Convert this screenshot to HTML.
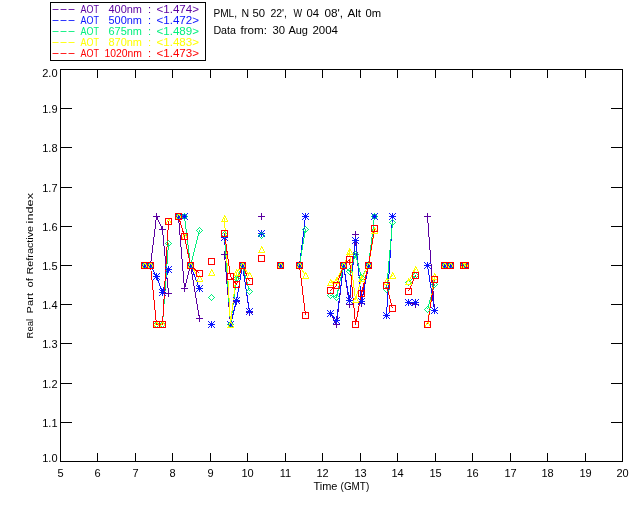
<!DOCTYPE html><html><head><meta charset="utf-8"><title>Real Part of Refractive Index</title><style>
html,body{margin:0;padding:0;background:#fff;}
body{width:640px;height:512px;overflow:hidden;}
svg{display:block;will-change:transform;}
text{font-family:"Liberation Sans",Arial,Helvetica,sans-serif;font-size:11px;}
</style></head><body>
<svg width="640" height="512" viewBox="0 0 640 512">
<rect x="0" y="0" width="640" height="512" fill="#fff"/>
<g shape-rendering="crispEdges"><rect x="60" y="69" width="563" height="1" fill="#000"/><rect x="60" y="461" width="563" height="1" fill="#000"/><rect x="60" y="69" width="1" height="393" fill="#000"/><rect x="622" y="69" width="1" height="393" fill="#000"/><rect x="97" y="453" width="1" height="8" fill="#000"/><rect x="97" y="70" width="1" height="8" fill="#000"/><rect x="135" y="453" width="1" height="8" fill="#000"/><rect x="135" y="70" width="1" height="8" fill="#000"/><rect x="172" y="453" width="1" height="8" fill="#000"/><rect x="172" y="70" width="1" height="8" fill="#000"/><rect x="210" y="453" width="1" height="8" fill="#000"/><rect x="210" y="70" width="1" height="8" fill="#000"/><rect x="247" y="453" width="1" height="8" fill="#000"/><rect x="247" y="70" width="1" height="8" fill="#000"/><rect x="285" y="453" width="1" height="8" fill="#000"/><rect x="285" y="70" width="1" height="8" fill="#000"/><rect x="322" y="453" width="1" height="8" fill="#000"/><rect x="322" y="70" width="1" height="8" fill="#000"/><rect x="360" y="453" width="1" height="8" fill="#000"/><rect x="360" y="70" width="1" height="8" fill="#000"/><rect x="397" y="453" width="1" height="8" fill="#000"/><rect x="397" y="70" width="1" height="8" fill="#000"/><rect x="435" y="453" width="1" height="8" fill="#000"/><rect x="435" y="70" width="1" height="8" fill="#000"/><rect x="472" y="453" width="1" height="8" fill="#000"/><rect x="472" y="70" width="1" height="8" fill="#000"/><rect x="510" y="453" width="1" height="8" fill="#000"/><rect x="510" y="70" width="1" height="8" fill="#000"/><rect x="547" y="453" width="1" height="8" fill="#000"/><rect x="547" y="70" width="1" height="8" fill="#000"/><rect x="585" y="453" width="1" height="8" fill="#000"/><rect x="585" y="70" width="1" height="8" fill="#000"/><rect x="61" y="422" width="11" height="1" fill="#000"/><rect x="611" y="422" width="11" height="1" fill="#000"/><rect x="61" y="383" width="11" height="1" fill="#000"/><rect x="611" y="383" width="11" height="1" fill="#000"/><rect x="61" y="343" width="11" height="1" fill="#000"/><rect x="611" y="343" width="11" height="1" fill="#000"/><rect x="61" y="304" width="11" height="1" fill="#000"/><rect x="611" y="304" width="11" height="1" fill="#000"/><rect x="61" y="265" width="11" height="1" fill="#000"/><rect x="611" y="265" width="11" height="1" fill="#000"/><rect x="61" y="226" width="11" height="1" fill="#000"/><rect x="611" y="226" width="11" height="1" fill="#000"/><rect x="61" y="187" width="11" height="1" fill="#000"/><rect x="611" y="187" width="11" height="1" fill="#000"/><rect x="61" y="147" width="11" height="1" fill="#000"/><rect x="611" y="147" width="11" height="1" fill="#000"/><rect x="61" y="108" width="11" height="1" fill="#000"/><rect x="611" y="108" width="11" height="1" fill="#000"/></g>
<g fill="#000"><text x="60.5" y="477" text-anchor="middle">5</text><text x="97.5" y="477" text-anchor="middle">6</text><text x="135.5" y="477" text-anchor="middle">7</text><text x="172.5" y="477" text-anchor="middle">8</text><text x="210.5" y="477" text-anchor="middle">9</text><text x="247.5" y="477" text-anchor="middle">10</text><text x="285.5" y="477" text-anchor="middle">11</text><text x="322.5" y="477" text-anchor="middle">12</text><text x="360.5" y="477" text-anchor="middle">13</text><text x="397.5" y="477" text-anchor="middle">14</text><text x="435.5" y="477" text-anchor="middle">15</text><text x="472.5" y="477" text-anchor="middle">16</text><text x="510.5" y="477" text-anchor="middle">17</text><text x="547.5" y="477" text-anchor="middle">18</text><text x="585.5" y="477" text-anchor="middle">19</text><text x="622.5" y="477" text-anchor="middle">20</text><text x="57.5" y="462" text-anchor="end">1.0</text><text x="57.5" y="427" text-anchor="end">1.1</text><text x="57.5" y="388" text-anchor="end">1.2</text><text x="57.5" y="348" text-anchor="end">1.3</text><text x="57.5" y="309" text-anchor="end">1.4</text><text x="57.5" y="270" text-anchor="end">1.5</text><text x="57.5" y="231" text-anchor="end">1.6</text><text x="57.5" y="192" text-anchor="end">1.7</text><text x="57.5" y="152" text-anchor="end">1.8</text><text x="57.5" y="113" text-anchor="end">1.9</text><text x="57.5" y="77" text-anchor="end">2.0</text><text x="313.4" y="490" textLength="24" lengthAdjust="spacingAndGlyphs">Time</text><text x="340.6" y="490" textLength="28.6" lengthAdjust="spacingAndGlyphs">(GMT)</text><g><text transform="translate(33,338.40) rotate(-90)" textLength="19.40" lengthAdjust="spacingAndGlyphs" style="font-size:9.5px">Real</text><text transform="translate(33,313.40) rotate(-90)" textLength="20.40" lengthAdjust="spacingAndGlyphs" style="font-size:9.5px">Part</text><text transform="translate(33,287.40) rotate(-90)" textLength="9.40" lengthAdjust="spacingAndGlyphs" style="font-size:9.5px">of</text><text transform="translate(33,274.40) rotate(-90)" textLength="48.40" lengthAdjust="spacingAndGlyphs" style="font-size:9.5px">Refractive</text><text transform="translate(33,223.40) rotate(-90)" textLength="30.40" lengthAdjust="spacingAndGlyphs" style="font-size:9.5px">index</text></g></g>
<g fill="#000"><text x="213.40" y="17.00" textLength="23.60" lengthAdjust="spacingAndGlyphs">PML,</text><text x="241.40" y="17.00" textLength="7.60" lengthAdjust="spacingAndGlyphs">N</text><text x="252.40" y="17.00" textLength="12.60" lengthAdjust="spacingAndGlyphs">50</text><text x="270.40" y="17.00" textLength="16.60" lengthAdjust="spacingAndGlyphs">22',</text><text x="293.40" y="17.00" textLength="8.60" lengthAdjust="spacingAndGlyphs">W</text><text x="306.40" y="17.00" textLength="12.60" lengthAdjust="spacingAndGlyphs">04</text><text x="324.40" y="17.00" textLength="18.60" lengthAdjust="spacingAndGlyphs">08',</text><text x="347.40" y="17.00" textLength="13.60" lengthAdjust="spacingAndGlyphs">Alt</text><text x="365.40" y="17.00" textLength="15.60" lengthAdjust="spacingAndGlyphs">0m</text><text x="213.40" y="34.00" textLength="22.60" lengthAdjust="spacingAndGlyphs">Data</text><text x="240.40" y="34.00" textLength="26.60" lengthAdjust="spacingAndGlyphs">from:</text><text x="272.40" y="34.00" textLength="12.60" lengthAdjust="spacingAndGlyphs">30</text><text x="288.40" y="34.00" textLength="19.60" lengthAdjust="spacingAndGlyphs">Aug</text><text x="312.40" y="34.00" textLength="25.60" lengthAdjust="spacingAndGlyphs">2004</text></g>
<rect x="50.5" y="2.5" width="155" height="58" fill="none" stroke="#000" stroke-width="1" shape-rendering="crispEdges"/><text transform="translate(51.5,12) scale(2.2,1)" fill="#5a00a0">---</text><text x="80.5" y="13" fill="#5a00a0" textLength="18.5" lengthAdjust="spacingAndGlyphs">AOT</text><text x="108.5" y="13" fill="#5a00a0" textLength="33.5" lengthAdjust="spacingAndGlyphs">400nm</text><text x="148" y="13" fill="#5a00a0">:</text><text x="156.5" y="13" fill="#5a00a0" textLength="42.5" lengthAdjust="spacingAndGlyphs">&lt;1.474&gt;</text><text transform="translate(51.5,23) scale(2.2,1)" fill="#0a14ff">---</text><text x="80.5" y="24" fill="#0a14ff" textLength="18.5" lengthAdjust="spacingAndGlyphs">AOT</text><text x="108.5" y="24" fill="#0a14ff" textLength="33.5" lengthAdjust="spacingAndGlyphs">500nm</text><text x="148" y="24" fill="#0a14ff">:</text><text x="156.5" y="24" fill="#0a14ff" textLength="42.5" lengthAdjust="spacingAndGlyphs">&lt;1.472&gt;</text><text transform="translate(51.5,34) scale(2.2,1)" fill="#00f07c">---</text><text x="80.5" y="35" fill="#00f07c" textLength="18.5" lengthAdjust="spacingAndGlyphs">AOT</text><text x="108.5" y="35" fill="#00f07c" textLength="33.5" lengthAdjust="spacingAndGlyphs">675nm</text><text x="148" y="35" fill="#00f07c">:</text><text x="156.5" y="35" fill="#00f07c" textLength="42.5" lengthAdjust="spacingAndGlyphs">&lt;1.489&gt;</text><text transform="translate(51.5,45) scale(2.2,1)" fill="#ffff00">---</text><text x="80.5" y="46" fill="#ffff00" textLength="18.5" lengthAdjust="spacingAndGlyphs">AOT</text><text x="108.5" y="46" fill="#ffff00" textLength="33.5" lengthAdjust="spacingAndGlyphs">870nm</text><text x="148" y="46" fill="#ffff00">:</text><text x="156.5" y="46" fill="#ffff00" textLength="42.5" lengthAdjust="spacingAndGlyphs">&lt;1.483&gt;</text><text transform="translate(51.5,56) scale(2.2,1)" fill="#ff0000">---</text><text x="80.5" y="57" fill="#ff0000" textLength="18.5" lengthAdjust="spacingAndGlyphs">AOT</text><text x="104.5" y="57" fill="#ff0000" textLength="37.5" lengthAdjust="spacingAndGlyphs">1020nm</text><text x="148" y="57" fill="#ff0000">:</text><text x="156.5" y="57" fill="#ff0000" textLength="42.5" lengthAdjust="spacingAndGlyphs">&lt;1.473&gt;</text>
<g fill="none" stroke="#5a00a0" stroke-width="1" shape-rendering="crispEdges"><polyline points="150.5,265.5 156.5,216.5 162.5,229.5 168.5,293.5"/><polyline points="178.5,216.5 184.5,288.5 190.5,265.5 199.5,318.5"/><polyline points="224.5,254.5 230.5,324.5 236.5,301.5 242.5,265.5 249.5,312.5"/><polyline points="299.5,265.5 305.5,216.5"/><polyline points="330.5,313.5 336.5,324.5 343.5,265.5 349.5,304.5 355.5,234.5 361.5,303.5 368.5,265.5 374.5,216.5"/><polyline points="386.5,315.5 392.5,216.5"/><polyline points="408.5,302.5 415.5,304.5"/><polyline points="427.5,216.5 434.5,310.5"/></g>
<g fill="none" stroke="#0a14ff" stroke-width="1" shape-rendering="crispEdges"><polyline points="150.5,265.5 156.5,276.5 162.5,292.5 168.5,269.5"/><polyline points="178.5,216.5 184.5,216.5 190.5,265.5 199.5,288.5"/><polyline points="224.5,237.5 230.5,324.5 236.5,300.5 242.5,265.5 249.5,311.5"/><polyline points="299.5,265.5 305.5,216.5"/><polyline points="330.5,313.5 336.5,320.5 343.5,265.5 349.5,300.5 355.5,240.5 361.5,301.5 368.5,265.5 374.5,216.5"/><polyline points="386.5,315.5 392.5,216.5"/><polyline points="408.5,302.5 415.5,302.5"/><polyline points="427.5,265.5 434.5,310.5"/></g>
<g fill="none" stroke="#00f07c" stroke-width="1" shape-rendering="crispEdges"><polyline points="150.5,265.5 156.5,324.5 162.5,324.5 168.5,243.5"/><polyline points="178.5,216.5 184.5,216.5 190.5,265.5 199.5,230.5"/><polyline points="224.5,234.5 230.5,324.5 236.5,278.5 242.5,265.5 249.5,291.5"/><polyline points="299.5,265.5 305.5,229.5"/><polyline points="330.5,295.5 336.5,297.5 343.5,265.5 349.5,271.5 355.5,254.5 361.5,277.5 368.5,265.5 374.5,216.5"/><polyline points="386.5,289.5 392.5,222.5"/><polyline points="408.5,282.5 415.5,275.5"/><polyline points="427.5,309.5 434.5,284.5"/></g>
<g fill="none" stroke="#ffff00" stroke-width="1" shape-rendering="crispEdges"><polyline points="150.5,265.5 156.5,324.5 162.5,324.5 168.5,221.5"/><polyline points="178.5,216.5 184.5,236.5 190.5,265.5 199.5,278.5"/><polyline points="224.5,218.5 230.5,324.5 236.5,272.5 242.5,265.5 249.5,275.5"/><polyline points="299.5,265.5 305.5,275.5"/><polyline points="330.5,282.5 336.5,280.5 343.5,265.5 349.5,251.5 355.5,299.5 361.5,278.5 368.5,265.5 374.5,230.5"/><polyline points="386.5,281.5 392.5,275.5"/><polyline points="408.5,281.5 415.5,269.5"/><polyline points="427.5,324.5 434.5,276.5"/></g>
<g fill="none" stroke="#ff0000" stroke-width="1" shape-rendering="crispEdges"><polyline points="150.5,265.5 156.5,324.5 162.5,324.5 168.5,221.5"/><polyline points="178.5,216.5 184.5,236.5 190.5,265.5 199.5,273.5"/><polyline points="224.5,233.5 230.5,276.5 236.5,284.5 242.5,265.5 249.5,281.5"/><polyline points="299.5,265.5 305.5,315.5"/><polyline points="330.5,290.5 336.5,285.5 343.5,265.5 349.5,259.5 355.5,324.5 361.5,293.5 368.5,265.5 374.5,228.5"/><polyline points="386.5,285.5 392.5,308.5"/><polyline points="408.5,291.5 415.5,275.5"/><polyline points="427.5,324.5 434.5,279.5"/></g>
<path fill="#5a00a0" shape-rendering="crispEdges" d="M156 213h1v1h-1zM178 213h1v1h-1zM261 213h1v1h-1zM305 213h1v1h-1zM374 213h1v1h-1zM392 213h1v1h-1zM427 213h1v1h-1zM156 214h1v1h-1zM178 214h1v1h-1zM261 214h1v1h-1zM305 214h1v1h-1zM374 214h1v1h-1zM392 214h1v1h-1zM427 214h1v1h-1zM156 215h1v1h-1zM178 215h1v1h-1zM261 215h1v1h-1zM305 215h1v1h-1zM374 215h1v1h-1zM392 215h1v1h-1zM427 215h1v1h-1zM153 216h7v1h-7zM175 216h7v1h-7zM258 216h7v1h-7zM302 216h7v1h-7zM371 216h7v1h-7zM389 216h7v1h-7zM424 216h7v1h-7zM156 217h1v1h-1zM178 217h1v1h-1zM261 217h1v1h-1zM305 217h1v1h-1zM374 217h1v1h-1zM392 217h1v1h-1zM427 217h1v1h-1zM156 218h1v1h-1zM178 218h1v1h-1zM261 218h1v1h-1zM305 218h1v1h-1zM374 218h1v1h-1zM392 218h1v1h-1zM427 218h1v1h-1zM156 219h1v1h-1zM178 219h1v1h-1zM261 219h1v1h-1zM305 219h1v1h-1zM374 219h1v1h-1zM392 219h1v1h-1zM427 219h1v1h-1zM162 226h1v1h-1zM162 227h1v1h-1zM162 228h1v1h-1zM159 229h7v1h-7zM162 230h1v1h-1zM162 231h1v1h-1zM355 231h1v1h-1zM162 232h1v1h-1zM355 232h1v1h-1zM355 233h1v1h-1zM352 234h7v1h-7zM355 235h1v1h-1zM355 236h1v1h-1zM355 237h1v1h-1zM224 251h1v1h-1zM224 252h1v1h-1zM224 253h1v1h-1zM221 254h7v1h-7zM224 255h1v1h-1zM224 256h1v1h-1zM224 257h1v1h-1zM144 262h1v1h-1zM150 262h1v1h-1zM190 262h1v1h-1zM242 262h1v1h-1zM280 262h1v1h-1zM299 262h1v1h-1zM343 262h1v1h-1zM368 262h1v1h-1zM444 262h1v1h-1zM450 262h1v1h-1zM463 262h1v1h-1zM465 262h1v1h-1zM144 263h1v1h-1zM150 263h1v1h-1zM190 263h1v1h-1zM242 263h1v1h-1zM280 263h1v1h-1zM299 263h1v1h-1zM343 263h1v1h-1zM368 263h1v1h-1zM444 263h1v1h-1zM450 263h1v1h-1zM463 263h1v1h-1zM465 263h1v1h-1zM144 264h1v1h-1zM150 264h1v1h-1zM190 264h1v1h-1zM242 264h1v1h-1zM280 264h1v1h-1zM299 264h1v1h-1zM343 264h1v1h-1zM368 264h1v1h-1zM444 264h1v1h-1zM450 264h1v1h-1zM463 264h1v1h-1zM465 264h1v1h-1zM141 265h13v1h-13zM187 265h7v1h-7zM239 265h7v1h-7zM277 265h7v1h-7zM296 265h7v1h-7zM340 265h7v1h-7zM365 265h7v1h-7zM441 265h13v1h-13zM460 265h9v1h-9zM144 266h1v1h-1zM150 266h1v1h-1zM190 266h1v1h-1zM242 266h1v1h-1zM280 266h1v1h-1zM299 266h1v1h-1zM343 266h1v1h-1zM368 266h1v1h-1zM444 266h1v1h-1zM450 266h1v1h-1zM463 266h1v1h-1zM465 266h1v1h-1zM144 267h1v1h-1zM150 267h1v1h-1zM190 267h1v1h-1zM242 267h1v1h-1zM280 267h1v1h-1zM299 267h1v1h-1zM343 267h1v1h-1zM368 267h1v1h-1zM444 267h1v1h-1zM450 267h1v1h-1zM463 267h1v1h-1zM465 267h1v1h-1zM144 268h1v1h-1zM150 268h1v1h-1zM190 268h1v1h-1zM242 268h1v1h-1zM280 268h1v1h-1zM299 268h1v1h-1zM343 268h1v1h-1zM368 268h1v1h-1zM444 268h1v1h-1zM450 268h1v1h-1zM463 268h1v1h-1zM465 268h1v1h-1zM184 285h1v1h-1zM184 286h1v1h-1zM184 287h1v1h-1zM181 288h7v1h-7zM184 289h1v1h-1zM168 290h1v1h-1zM184 290h1v1h-1zM168 291h1v1h-1zM184 291h1v1h-1zM168 292h1v1h-1zM165 293h7v1h-7zM168 294h1v1h-1zM168 295h1v1h-1zM168 296h1v1h-1zM236 298h1v1h-1zM236 299h1v1h-1zM408 299h1v1h-1zM236 300h1v1h-1zM361 300h1v1h-1zM408 300h1v1h-1zM233 301h7v1h-7zM349 301h1v1h-1zM361 301h1v1h-1zM408 301h1v1h-1zM415 301h1v1h-1zM236 302h1v1h-1zM349 302h1v1h-1zM361 302h1v1h-1zM405 302h7v1h-7zM415 302h1v1h-1zM236 303h1v1h-1zM349 303h1v1h-1zM358 303h7v1h-7zM408 303h1v1h-1zM415 303h1v1h-1zM236 304h1v1h-1zM346 304h7v1h-7zM361 304h1v1h-1zM408 304h1v1h-1zM412 304h7v1h-7zM349 305h1v1h-1zM361 305h1v1h-1zM408 305h1v1h-1zM415 305h1v1h-1zM349 306h1v1h-1zM361 306h1v1h-1zM415 306h1v1h-1zM349 307h1v1h-1zM415 307h1v1h-1zM434 307h1v1h-1zM434 308h1v1h-1zM249 309h1v1h-1zM434 309h1v1h-1zM249 310h1v1h-1zM330 310h1v1h-1zM431 310h7v1h-7zM249 311h1v1h-1zM330 311h1v1h-1zM434 311h1v1h-1zM246 312h7v1h-7zM330 312h1v1h-1zM386 312h1v1h-1zM434 312h1v1h-1zM249 313h1v1h-1zM327 313h7v1h-7zM386 313h1v1h-1zM434 313h1v1h-1zM249 314h1v1h-1zM330 314h1v1h-1zM386 314h1v1h-1zM199 315h1v1h-1zM249 315h1v1h-1zM330 315h1v1h-1zM383 315h7v1h-7zM199 316h1v1h-1zM330 316h1v1h-1zM386 316h1v1h-1zM199 317h1v1h-1zM386 317h1v1h-1zM196 318h7v1h-7zM386 318h1v1h-1zM199 319h1v1h-1zM199 320h1v1h-1zM199 321h1v1h-1zM211 321h1v1h-1zM230 321h1v1h-1zM336 321h1v1h-1zM211 322h1v1h-1zM230 322h1v1h-1zM336 322h1v1h-1zM211 323h1v1h-1zM230 323h1v1h-1zM336 323h1v1h-1zM208 324h7v1h-7zM227 324h7v1h-7zM333 324h7v1h-7zM211 325h1v1h-1zM230 325h1v1h-1zM336 325h1v1h-1zM211 326h1v1h-1zM230 326h1v1h-1zM336 326h1v1h-1zM211 327h1v1h-1zM230 327h1v1h-1zM336 327h1v1h-1z"/>
<path fill="#0a14ff" shape-rendering="crispEdges" d="M175 213h1v1h-1zM178 213h1v1h-1zM181 213h1v1h-1zM184 213h1v1h-1zM187 213h1v1h-1zM302 213h1v1h-1zM305 213h1v1h-1zM308 213h1v1h-1zM371 213h1v1h-1zM374 213h1v1h-1zM377 213h1v1h-1zM389 213h1v1h-1zM392 213h1v1h-1zM395 213h1v1h-1zM176 214h1v1h-1zM178 214h1v1h-1zM180 214h1v1h-1zM182 214h1v1h-1zM184 214h1v1h-1zM186 214h1v1h-1zM303 214h1v1h-1zM305 214h1v1h-1zM307 214h1v1h-1zM372 214h1v1h-1zM374 214h1v1h-1zM376 214h1v1h-1zM390 214h1v1h-1zM392 214h1v1h-1zM394 214h1v1h-1zM177 215h3v1h-3zM183 215h3v1h-3zM304 215h3v1h-3zM373 215h3v1h-3zM391 215h3v1h-3zM175 216h13v1h-13zM302 216h7v1h-7zM371 216h7v1h-7zM389 216h7v1h-7zM177 217h3v1h-3zM183 217h3v1h-3zM304 217h3v1h-3zM373 217h3v1h-3zM391 217h3v1h-3zM176 218h1v1h-1zM178 218h1v1h-1zM180 218h1v1h-1zM182 218h1v1h-1zM184 218h1v1h-1zM186 218h1v1h-1zM303 218h1v1h-1zM305 218h1v1h-1zM307 218h1v1h-1zM372 218h1v1h-1zM374 218h1v1h-1zM376 218h1v1h-1zM390 218h1v1h-1zM392 218h1v1h-1zM394 218h1v1h-1zM175 219h1v1h-1zM178 219h1v1h-1zM181 219h1v1h-1zM184 219h1v1h-1zM187 219h1v1h-1zM302 219h1v1h-1zM305 219h1v1h-1zM308 219h1v1h-1zM371 219h1v1h-1zM374 219h1v1h-1zM377 219h1v1h-1zM389 219h1v1h-1zM392 219h1v1h-1zM395 219h1v1h-1zM258 230h1v1h-1zM261 230h1v1h-1zM264 230h1v1h-1zM259 231h1v1h-1zM261 231h1v1h-1zM263 231h1v1h-1zM260 232h3v1h-3zM258 233h7v1h-7zM221 234h1v1h-1zM224 234h1v1h-1zM227 234h1v1h-1zM260 234h3v1h-3zM222 235h1v1h-1zM224 235h1v1h-1zM226 235h1v1h-1zM259 235h1v1h-1zM261 235h1v1h-1zM263 235h1v1h-1zM223 236h3v1h-3zM258 236h1v1h-1zM261 236h1v1h-1zM264 236h1v1h-1zM221 237h7v1h-7zM352 237h1v1h-1zM355 237h1v1h-1zM358 237h1v1h-1zM223 238h3v1h-3zM353 238h1v1h-1zM355 238h1v1h-1zM357 238h1v1h-1zM222 239h1v1h-1zM224 239h1v1h-1zM226 239h1v1h-1zM354 239h3v1h-3zM221 240h1v1h-1zM224 240h1v1h-1zM227 240h1v1h-1zM352 240h7v1h-7zM354 241h3v1h-3zM353 242h1v1h-1zM355 242h1v1h-1zM357 242h1v1h-1zM352 243h1v1h-1zM355 243h1v1h-1zM358 243h1v1h-1zM141 262h1v1h-1zM144 262h1v1h-1zM147 262h1v1h-1zM150 262h1v1h-1zM153 262h1v1h-1zM187 262h1v1h-1zM190 262h1v1h-1zM193 262h1v1h-1zM239 262h1v1h-1zM242 262h1v1h-1zM245 262h1v1h-1zM277 262h1v1h-1zM280 262h1v1h-1zM283 262h1v1h-1zM296 262h1v1h-1zM299 262h1v1h-1zM302 262h1v1h-1zM340 262h1v1h-1zM343 262h1v1h-1zM346 262h1v1h-1zM365 262h1v1h-1zM368 262h1v1h-1zM371 262h1v1h-1zM424 262h1v1h-1zM427 262h1v1h-1zM430 262h1v1h-1zM441 262h1v1h-1zM444 262h1v1h-1zM447 262h1v1h-1zM450 262h1v1h-1zM453 262h1v1h-1zM460 262h1v1h-1zM462 262h2v1h-2zM465 262h2v1h-2zM468 262h1v1h-1zM142 263h1v1h-1zM144 263h1v1h-1zM146 263h1v1h-1zM148 263h1v1h-1zM150 263h1v1h-1zM152 263h1v1h-1zM188 263h1v1h-1zM190 263h1v1h-1zM192 263h1v1h-1zM240 263h1v1h-1zM242 263h1v1h-1zM244 263h1v1h-1zM278 263h1v1h-1zM280 263h1v1h-1zM282 263h1v1h-1zM297 263h1v1h-1zM299 263h1v1h-1zM301 263h1v1h-1zM341 263h1v1h-1zM343 263h1v1h-1zM345 263h1v1h-1zM366 263h1v1h-1zM368 263h1v1h-1zM370 263h1v1h-1zM425 263h1v1h-1zM427 263h1v1h-1zM429 263h1v1h-1zM442 263h1v1h-1zM444 263h1v1h-1zM446 263h1v1h-1zM448 263h1v1h-1zM450 263h1v1h-1zM452 263h1v1h-1zM461 263h1v1h-1zM463 263h1v1h-1zM465 263h1v1h-1zM467 263h1v1h-1zM143 264h3v1h-3zM149 264h3v1h-3zM189 264h3v1h-3zM241 264h3v1h-3zM279 264h3v1h-3zM298 264h3v1h-3zM342 264h3v1h-3zM367 264h3v1h-3zM426 264h3v1h-3zM443 264h3v1h-3zM449 264h3v1h-3zM462 264h5v1h-5zM141 265h13v1h-13zM187 265h7v1h-7zM239 265h7v1h-7zM277 265h7v1h-7zM296 265h7v1h-7zM340 265h7v1h-7zM365 265h7v1h-7zM424 265h7v1h-7zM441 265h13v1h-13zM460 265h9v1h-9zM143 266h3v1h-3zM149 266h3v1h-3zM165 266h1v1h-1zM168 266h1v1h-1zM171 266h1v1h-1zM189 266h3v1h-3zM241 266h3v1h-3zM279 266h3v1h-3zM298 266h3v1h-3zM342 266h3v1h-3zM367 266h3v1h-3zM426 266h3v1h-3zM443 266h3v1h-3zM449 266h3v1h-3zM462 266h5v1h-5zM142 267h1v1h-1zM144 267h1v1h-1zM146 267h1v1h-1zM148 267h1v1h-1zM150 267h1v1h-1zM152 267h1v1h-1zM166 267h1v1h-1zM168 267h1v1h-1zM170 267h1v1h-1zM188 267h1v1h-1zM190 267h1v1h-1zM192 267h1v1h-1zM240 267h1v1h-1zM242 267h1v1h-1zM244 267h1v1h-1zM278 267h1v1h-1zM280 267h1v1h-1zM282 267h1v1h-1zM297 267h1v1h-1zM299 267h1v1h-1zM301 267h1v1h-1zM341 267h1v1h-1zM343 267h1v1h-1zM345 267h1v1h-1zM366 267h1v1h-1zM368 267h1v1h-1zM370 267h1v1h-1zM425 267h1v1h-1zM427 267h1v1h-1zM429 267h1v1h-1zM442 267h1v1h-1zM444 267h1v1h-1zM446 267h1v1h-1zM448 267h1v1h-1zM450 267h1v1h-1zM452 267h1v1h-1zM461 267h1v1h-1zM463 267h1v1h-1zM465 267h1v1h-1zM467 267h1v1h-1zM141 268h1v1h-1zM144 268h1v1h-1zM147 268h1v1h-1zM150 268h1v1h-1zM153 268h1v1h-1zM167 268h3v1h-3zM187 268h1v1h-1zM190 268h1v1h-1zM193 268h1v1h-1zM239 268h1v1h-1zM242 268h1v1h-1zM245 268h1v1h-1zM277 268h1v1h-1zM280 268h1v1h-1zM283 268h1v1h-1zM296 268h1v1h-1zM299 268h1v1h-1zM302 268h1v1h-1zM340 268h1v1h-1zM343 268h1v1h-1zM346 268h1v1h-1zM365 268h1v1h-1zM368 268h1v1h-1zM371 268h1v1h-1zM424 268h1v1h-1zM427 268h1v1h-1zM430 268h1v1h-1zM441 268h1v1h-1zM444 268h1v1h-1zM447 268h1v1h-1zM450 268h1v1h-1zM453 268h1v1h-1zM460 268h1v1h-1zM462 268h2v1h-2zM465 268h2v1h-2zM468 268h1v1h-1zM165 269h7v1h-7zM167 270h3v1h-3zM166 271h1v1h-1zM168 271h1v1h-1zM170 271h1v1h-1zM165 272h1v1h-1zM168 272h1v1h-1zM171 272h1v1h-1zM153 273h1v1h-1zM156 273h1v1h-1zM159 273h1v1h-1zM154 274h1v1h-1zM156 274h1v1h-1zM158 274h1v1h-1zM155 275h3v1h-3zM153 276h7v1h-7zM155 277h3v1h-3zM154 278h1v1h-1zM156 278h1v1h-1zM158 278h1v1h-1zM153 279h1v1h-1zM156 279h1v1h-1zM159 279h1v1h-1zM196 285h1v1h-1zM199 285h1v1h-1zM202 285h1v1h-1zM197 286h1v1h-1zM199 286h1v1h-1zM201 286h1v1h-1zM198 287h3v1h-3zM196 288h7v1h-7zM159 289h1v1h-1zM162 289h1v1h-1zM165 289h1v1h-1zM198 289h3v1h-3zM160 290h1v1h-1zM162 290h1v1h-1zM164 290h1v1h-1zM197 290h1v1h-1zM199 290h1v1h-1zM201 290h1v1h-1zM161 291h3v1h-3zM196 291h1v1h-1zM199 291h1v1h-1zM202 291h1v1h-1zM159 292h7v1h-7zM161 293h3v1h-3zM160 294h1v1h-1zM162 294h1v1h-1zM164 294h1v1h-1zM159 295h1v1h-1zM162 295h1v1h-1zM165 295h1v1h-1zM233 297h1v1h-1zM236 297h1v1h-1zM239 297h1v1h-1zM346 297h1v1h-1zM349 297h1v1h-1zM352 297h1v1h-1zM234 298h1v1h-1zM236 298h1v1h-1zM238 298h1v1h-1zM347 298h1v1h-1zM349 298h1v1h-1zM351 298h1v1h-1zM358 298h1v1h-1zM361 298h1v1h-1zM364 298h1v1h-1zM235 299h3v1h-3zM348 299h3v1h-3zM359 299h1v1h-1zM361 299h1v1h-1zM363 299h1v1h-1zM405 299h1v1h-1zM408 299h1v1h-1zM411 299h2v1h-2zM415 299h1v1h-1zM418 299h1v1h-1zM233 300h7v1h-7zM346 300h7v1h-7zM360 300h3v1h-3zM406 300h1v1h-1zM408 300h1v1h-1zM410 300h1v1h-1zM413 300h1v1h-1zM415 300h1v1h-1zM417 300h1v1h-1zM235 301h3v1h-3zM348 301h3v1h-3zM358 301h7v1h-7zM407 301h3v1h-3zM414 301h3v1h-3zM234 302h1v1h-1zM236 302h1v1h-1zM238 302h1v1h-1zM347 302h1v1h-1zM349 302h1v1h-1zM351 302h1v1h-1zM360 302h3v1h-3zM405 302h14v1h-14zM233 303h1v1h-1zM236 303h1v1h-1zM239 303h1v1h-1zM346 303h1v1h-1zM349 303h1v1h-1zM352 303h1v1h-1zM359 303h1v1h-1zM361 303h1v1h-1zM363 303h1v1h-1zM407 303h3v1h-3zM414 303h3v1h-3zM358 304h1v1h-1zM361 304h1v1h-1zM364 304h1v1h-1zM406 304h1v1h-1zM408 304h1v1h-1zM410 304h1v1h-1zM413 304h1v1h-1zM415 304h1v1h-1zM417 304h1v1h-1zM405 305h1v1h-1zM408 305h1v1h-1zM411 305h2v1h-2zM415 305h1v1h-1zM418 305h1v1h-1zM431 307h1v1h-1zM434 307h1v1h-1zM437 307h1v1h-1zM246 308h1v1h-1zM249 308h1v1h-1zM252 308h1v1h-1zM432 308h1v1h-1zM434 308h1v1h-1zM436 308h1v1h-1zM247 309h1v1h-1zM249 309h1v1h-1zM251 309h1v1h-1zM433 309h3v1h-3zM248 310h3v1h-3zM327 310h1v1h-1zM330 310h1v1h-1zM333 310h1v1h-1zM431 310h7v1h-7zM246 311h7v1h-7zM328 311h1v1h-1zM330 311h1v1h-1zM332 311h1v1h-1zM433 311h3v1h-3zM248 312h3v1h-3zM329 312h3v1h-3zM383 312h1v1h-1zM386 312h1v1h-1zM389 312h1v1h-1zM432 312h1v1h-1zM434 312h1v1h-1zM436 312h1v1h-1zM247 313h1v1h-1zM249 313h1v1h-1zM251 313h1v1h-1zM327 313h7v1h-7zM384 313h1v1h-1zM386 313h1v1h-1zM388 313h1v1h-1zM431 313h1v1h-1zM434 313h1v1h-1zM437 313h1v1h-1zM246 314h1v1h-1zM249 314h1v1h-1zM252 314h1v1h-1zM329 314h3v1h-3zM385 314h3v1h-3zM328 315h1v1h-1zM330 315h1v1h-1zM332 315h1v1h-1zM383 315h7v1h-7zM327 316h1v1h-1zM330 316h1v1h-1zM333 316h1v1h-1zM385 316h3v1h-3zM333 317h1v1h-1zM336 317h1v1h-1zM339 317h1v1h-1zM384 317h1v1h-1zM386 317h1v1h-1zM388 317h1v1h-1zM334 318h1v1h-1zM336 318h1v1h-1zM338 318h1v1h-1zM383 318h1v1h-1zM386 318h1v1h-1zM389 318h1v1h-1zM335 319h3v1h-3zM333 320h7v1h-7zM208 321h1v1h-1zM211 321h1v1h-1zM214 321h1v1h-1zM227 321h1v1h-1zM230 321h1v1h-1zM233 321h1v1h-1zM335 321h3v1h-3zM209 322h1v1h-1zM211 322h1v1h-1zM213 322h1v1h-1zM228 322h1v1h-1zM230 322h1v1h-1zM232 322h1v1h-1zM334 322h1v1h-1zM336 322h1v1h-1zM338 322h1v1h-1zM210 323h3v1h-3zM229 323h3v1h-3zM333 323h1v1h-1zM336 323h1v1h-1zM339 323h1v1h-1zM208 324h7v1h-7zM227 324h7v1h-7zM210 325h3v1h-3zM229 325h3v1h-3zM209 326h1v1h-1zM211 326h1v1h-1zM213 326h1v1h-1zM228 326h1v1h-1zM230 326h1v1h-1zM232 326h1v1h-1zM208 327h1v1h-1zM211 327h1v1h-1zM214 327h1v1h-1zM227 327h1v1h-1zM230 327h1v1h-1zM233 327h1v1h-1z"/>
<path fill="#00f07c" shape-rendering="crispEdges" d="M178 213h1v1h-1zM184 213h1v1h-1zM374 213h1v1h-1zM177 214h1v1h-1zM179 214h1v1h-1zM183 214h1v1h-1zM185 214h1v1h-1zM373 214h1v1h-1zM375 214h1v1h-1zM176 215h1v1h-1zM180 215h1v1h-1zM182 215h1v1h-1zM186 215h1v1h-1zM372 215h1v1h-1zM376 215h1v1h-1zM175 216h1v1h-1zM181 216h1v1h-1zM187 216h1v1h-1zM371 216h1v1h-1zM377 216h1v1h-1zM176 217h1v1h-1zM180 217h1v1h-1zM182 217h1v1h-1zM186 217h1v1h-1zM372 217h1v1h-1zM376 217h1v1h-1zM177 218h1v1h-1zM179 218h1v1h-1zM183 218h1v1h-1zM185 218h1v1h-1zM373 218h1v1h-1zM375 218h1v1h-1zM178 219h1v1h-1zM184 219h1v1h-1zM374 219h1v1h-1zM392 219h1v1h-1zM391 220h1v1h-1zM393 220h1v1h-1zM390 221h1v1h-1zM394 221h1v1h-1zM389 222h1v1h-1zM395 222h1v1h-1zM390 223h1v1h-1zM394 223h1v1h-1zM391 224h1v1h-1zM393 224h1v1h-1zM392 225h1v1h-1zM305 226h1v1h-1zM199 227h1v1h-1zM304 227h1v1h-1zM306 227h1v1h-1zM198 228h1v1h-1zM200 228h1v1h-1zM303 228h1v1h-1zM307 228h1v1h-1zM197 229h1v1h-1zM201 229h1v1h-1zM302 229h1v1h-1zM308 229h1v1h-1zM196 230h1v1h-1zM202 230h1v1h-1zM303 230h1v1h-1zM307 230h1v1h-1zM197 231h1v1h-1zM201 231h1v1h-1zM224 231h1v1h-1zM304 231h1v1h-1zM306 231h1v1h-1zM198 232h1v1h-1zM200 232h1v1h-1zM223 232h1v1h-1zM225 232h1v1h-1zM261 232h1v1h-1zM305 232h1v1h-1zM199 233h1v1h-1zM222 233h1v1h-1zM226 233h1v1h-1zM260 233h1v1h-1zM262 233h1v1h-1zM221 234h1v1h-1zM227 234h1v1h-1zM259 234h1v1h-1zM263 234h1v1h-1zM222 235h1v1h-1zM226 235h1v1h-1zM258 235h1v1h-1zM264 235h1v1h-1zM223 236h1v1h-1zM225 236h1v1h-1zM259 236h1v1h-1zM263 236h1v1h-1zM224 237h1v1h-1zM260 237h1v1h-1zM262 237h1v1h-1zM261 238h1v1h-1zM168 240h1v1h-1zM167 241h1v1h-1zM169 241h1v1h-1zM166 242h1v1h-1zM170 242h1v1h-1zM165 243h1v1h-1zM171 243h1v1h-1zM166 244h1v1h-1zM170 244h1v1h-1zM167 245h1v1h-1zM169 245h1v1h-1zM168 246h1v1h-1zM355 251h1v1h-1zM354 252h1v1h-1zM356 252h1v1h-1zM353 253h1v1h-1zM357 253h1v1h-1zM352 254h1v1h-1zM358 254h1v1h-1zM353 255h1v1h-1zM357 255h1v1h-1zM354 256h1v1h-1zM356 256h1v1h-1zM355 257h1v1h-1zM144 262h1v1h-1zM150 262h1v1h-1zM190 262h1v1h-1zM242 262h1v1h-1zM280 262h1v1h-1zM299 262h1v1h-1zM343 262h1v1h-1zM368 262h1v1h-1zM444 262h1v1h-1zM450 262h1v1h-1zM463 262h1v1h-1zM465 262h1v1h-1zM143 263h1v1h-1zM145 263h1v1h-1zM149 263h1v1h-1zM151 263h1v1h-1zM189 263h1v1h-1zM191 263h1v1h-1zM241 263h1v1h-1zM243 263h1v1h-1zM279 263h1v1h-1zM281 263h1v1h-1zM298 263h1v1h-1zM300 263h1v1h-1zM342 263h1v1h-1zM344 263h1v1h-1zM367 263h1v1h-1zM369 263h1v1h-1zM443 263h1v1h-1zM445 263h1v1h-1zM449 263h1v1h-1zM451 263h1v1h-1zM462 263h1v1h-1zM464 263h1v1h-1zM466 263h1v1h-1zM142 264h1v1h-1zM146 264h1v1h-1zM148 264h1v1h-1zM152 264h1v1h-1zM188 264h1v1h-1zM192 264h1v1h-1zM240 264h1v1h-1zM244 264h1v1h-1zM278 264h1v1h-1zM282 264h1v1h-1zM297 264h1v1h-1zM301 264h1v1h-1zM341 264h1v1h-1zM345 264h1v1h-1zM366 264h1v1h-1zM370 264h1v1h-1zM442 264h1v1h-1zM446 264h1v1h-1zM448 264h1v1h-1zM452 264h1v1h-1zM461 264h1v1h-1zM463 264h1v1h-1zM465 264h1v1h-1zM467 264h1v1h-1zM141 265h1v1h-1zM147 265h1v1h-1zM153 265h1v1h-1zM187 265h1v1h-1zM193 265h1v1h-1zM239 265h1v1h-1zM245 265h1v1h-1zM277 265h1v1h-1zM283 265h1v1h-1zM296 265h1v1h-1zM302 265h1v1h-1zM340 265h1v1h-1zM346 265h1v1h-1zM365 265h1v1h-1zM371 265h1v1h-1zM441 265h1v1h-1zM447 265h1v1h-1zM453 265h1v1h-1zM460 265h1v1h-1zM462 265h1v1h-1zM466 265h1v1h-1zM468 265h1v1h-1zM142 266h1v1h-1zM146 266h1v1h-1zM148 266h1v1h-1zM152 266h1v1h-1zM188 266h1v1h-1zM192 266h1v1h-1zM240 266h1v1h-1zM244 266h1v1h-1zM278 266h1v1h-1zM282 266h1v1h-1zM297 266h1v1h-1zM301 266h1v1h-1zM341 266h1v1h-1zM345 266h1v1h-1zM366 266h1v1h-1zM370 266h1v1h-1zM442 266h1v1h-1zM446 266h1v1h-1zM448 266h1v1h-1zM452 266h1v1h-1zM461 266h1v1h-1zM463 266h1v1h-1zM465 266h1v1h-1zM467 266h1v1h-1zM143 267h1v1h-1zM145 267h1v1h-1zM149 267h1v1h-1zM151 267h1v1h-1zM189 267h1v1h-1zM191 267h1v1h-1zM241 267h1v1h-1zM243 267h1v1h-1zM279 267h1v1h-1zM281 267h1v1h-1zM298 267h1v1h-1zM300 267h1v1h-1zM342 267h1v1h-1zM344 267h1v1h-1zM367 267h1v1h-1zM369 267h1v1h-1zM443 267h1v1h-1zM445 267h1v1h-1zM449 267h1v1h-1zM451 267h1v1h-1zM462 267h1v1h-1zM464 267h1v1h-1zM466 267h1v1h-1zM144 268h1v1h-1zM150 268h1v1h-1zM190 268h1v1h-1zM242 268h1v1h-1zM280 268h1v1h-1zM299 268h1v1h-1zM343 268h1v1h-1zM349 268h1v1h-1zM368 268h1v1h-1zM444 268h1v1h-1zM450 268h1v1h-1zM463 268h1v1h-1zM465 268h1v1h-1zM348 269h1v1h-1zM350 269h1v1h-1zM347 270h1v1h-1zM351 270h1v1h-1zM346 271h1v1h-1zM352 271h1v1h-1zM347 272h1v1h-1zM351 272h1v1h-1zM415 272h1v1h-1zM348 273h1v1h-1zM350 273h1v1h-1zM414 273h1v1h-1zM416 273h1v1h-1zM349 274h1v1h-1zM361 274h1v1h-1zM413 274h1v1h-1zM417 274h1v1h-1zM236 275h1v1h-1zM360 275h1v1h-1zM362 275h1v1h-1zM412 275h1v1h-1zM418 275h1v1h-1zM235 276h1v1h-1zM237 276h1v1h-1zM359 276h1v1h-1zM363 276h1v1h-1zM413 276h1v1h-1zM417 276h1v1h-1zM234 277h1v1h-1zM238 277h1v1h-1zM358 277h1v1h-1zM364 277h1v1h-1zM414 277h1v1h-1zM416 277h1v1h-1zM233 278h1v1h-1zM239 278h1v1h-1zM359 278h1v1h-1zM363 278h1v1h-1zM415 278h1v1h-1zM234 279h1v1h-1zM238 279h1v1h-1zM360 279h1v1h-1zM362 279h1v1h-1zM408 279h1v1h-1zM235 280h1v1h-1zM237 280h1v1h-1zM361 280h1v1h-1zM407 280h1v1h-1zM409 280h1v1h-1zM236 281h1v1h-1zM406 281h1v1h-1zM410 281h1v1h-1zM434 281h1v1h-1zM405 282h1v1h-1zM411 282h1v1h-1zM433 282h1v1h-1zM435 282h1v1h-1zM406 283h1v1h-1zM410 283h1v1h-1zM432 283h1v1h-1zM436 283h1v1h-1zM407 284h1v1h-1zM409 284h1v1h-1zM431 284h1v1h-1zM437 284h1v1h-1zM408 285h1v1h-1zM432 285h1v1h-1zM436 285h1v1h-1zM386 286h1v1h-1zM433 286h1v1h-1zM435 286h1v1h-1zM385 287h1v1h-1zM387 287h1v1h-1zM434 287h1v1h-1zM249 288h1v1h-1zM384 288h1v1h-1zM388 288h1v1h-1zM248 289h1v1h-1zM250 289h1v1h-1zM383 289h1v1h-1zM389 289h1v1h-1zM247 290h1v1h-1zM251 290h1v1h-1zM384 290h1v1h-1zM388 290h1v1h-1zM246 291h1v1h-1zM252 291h1v1h-1zM385 291h1v1h-1zM387 291h1v1h-1zM247 292h1v1h-1zM251 292h1v1h-1zM330 292h1v1h-1zM386 292h1v1h-1zM248 293h1v1h-1zM250 293h1v1h-1zM329 293h1v1h-1zM331 293h1v1h-1zM211 294h1v1h-1zM249 294h1v1h-1zM328 294h1v1h-1zM332 294h1v1h-1zM336 294h1v1h-1zM210 295h1v1h-1zM212 295h1v1h-1zM327 295h1v1h-1zM333 295h1v1h-1zM335 295h1v1h-1zM337 295h1v1h-1zM209 296h1v1h-1zM213 296h1v1h-1zM328 296h1v1h-1zM332 296h1v1h-1zM334 296h1v1h-1zM338 296h1v1h-1zM208 297h1v1h-1zM214 297h1v1h-1zM329 297h1v1h-1zM331 297h1v1h-1zM333 297h1v1h-1zM339 297h1v1h-1zM209 298h1v1h-1zM213 298h1v1h-1zM330 298h1v1h-1zM334 298h1v1h-1zM338 298h1v1h-1zM210 299h1v1h-1zM212 299h1v1h-1zM335 299h1v1h-1zM337 299h1v1h-1zM211 300h1v1h-1zM336 300h1v1h-1zM427 306h1v1h-1zM426 307h1v1h-1zM428 307h1v1h-1zM425 308h1v1h-1zM429 308h1v1h-1zM424 309h1v1h-1zM430 309h1v1h-1zM425 310h1v1h-1zM429 310h1v1h-1zM426 311h1v1h-1zM428 311h1v1h-1zM427 312h1v1h-1zM156 321h1v1h-1zM162 321h1v1h-1zM230 321h1v1h-1zM155 322h1v1h-1zM157 322h1v1h-1zM161 322h1v1h-1zM163 322h1v1h-1zM229 322h1v1h-1zM231 322h1v1h-1zM154 323h1v1h-1zM158 323h1v1h-1zM160 323h1v1h-1zM164 323h1v1h-1zM228 323h1v1h-1zM232 323h1v1h-1zM153 324h1v1h-1zM159 324h1v1h-1zM165 324h1v1h-1zM227 324h1v1h-1zM233 324h1v1h-1zM154 325h1v1h-1zM158 325h1v1h-1zM160 325h1v1h-1zM164 325h1v1h-1zM228 325h1v1h-1zM232 325h1v1h-1zM155 326h1v1h-1zM157 326h1v1h-1zM161 326h1v1h-1zM163 326h1v1h-1zM229 326h1v1h-1zM231 326h1v1h-1zM156 327h1v1h-1zM162 327h1v1h-1zM230 327h1v1h-1z"/>
<path fill="#ffff00" shape-rendering="crispEdges" d="M178 213h1v1h-1zM178 214h2v1h-2zM177 215h1v1h-1zM179 215h1v1h-1zM224 215h1v1h-1zM177 216h1v1h-1zM180 216h1v1h-1zM224 216h2v1h-2zM176 217h1v1h-1zM180 217h1v1h-1zM223 217h1v1h-1zM225 217h1v1h-1zM168 218h1v1h-1zM176 218h1v1h-1zM181 218h1v1h-1zM223 218h1v1h-1zM226 218h1v1h-1zM168 219h2v1h-2zM175 219h7v1h-7zM222 219h1v1h-1zM226 219h1v1h-1zM167 220h1v1h-1zM169 220h1v1h-1zM222 220h1v1h-1zM227 220h1v1h-1zM167 221h1v1h-1zM170 221h1v1h-1zM221 221h7v1h-7zM166 222h1v1h-1zM170 222h1v1h-1zM166 223h1v1h-1zM171 223h1v1h-1zM165 224h7v1h-7zM374 227h1v1h-1zM374 228h2v1h-2zM373 229h1v1h-1zM375 229h1v1h-1zM373 230h1v1h-1zM376 230h1v1h-1zM372 231h1v1h-1zM376 231h1v1h-1zM372 232h1v1h-1zM377 232h1v1h-1zM184 233h1v1h-1zM371 233h7v1h-7zM184 234h2v1h-2zM183 235h1v1h-1zM185 235h1v1h-1zM183 236h1v1h-1zM186 236h1v1h-1zM182 237h1v1h-1zM186 237h1v1h-1zM182 238h1v1h-1zM187 238h1v1h-1zM181 239h7v1h-7zM261 246h1v1h-1zM261 247h2v1h-2zM260 248h1v1h-1zM262 248h1v1h-1zM349 248h1v1h-1zM260 249h1v1h-1zM263 249h1v1h-1zM349 249h2v1h-2zM259 250h1v1h-1zM263 250h1v1h-1zM348 250h1v1h-1zM350 250h1v1h-1zM259 251h1v1h-1zM264 251h1v1h-1zM348 251h1v1h-1zM351 251h1v1h-1zM258 252h7v1h-7zM347 252h1v1h-1zM351 252h1v1h-1zM347 253h1v1h-1zM352 253h1v1h-1zM346 254h7v1h-7zM144 262h1v1h-1zM150 262h1v1h-1zM190 262h1v1h-1zM242 262h1v1h-1zM280 262h1v1h-1zM299 262h1v1h-1zM343 262h1v1h-1zM368 262h1v1h-1zM444 262h1v1h-1zM450 262h1v1h-1zM463 262h1v1h-1zM465 262h1v1h-1zM144 263h2v1h-2zM150 263h2v1h-2zM190 263h2v1h-2zM242 263h2v1h-2zM280 263h2v1h-2zM299 263h2v1h-2zM343 263h2v1h-2zM368 263h2v1h-2zM444 263h2v1h-2zM450 263h2v1h-2zM463 263h4v1h-4zM143 264h1v1h-1zM145 264h1v1h-1zM149 264h1v1h-1zM151 264h1v1h-1zM189 264h1v1h-1zM191 264h1v1h-1zM241 264h1v1h-1zM243 264h1v1h-1zM279 264h1v1h-1zM281 264h1v1h-1zM298 264h1v1h-1zM300 264h1v1h-1zM342 264h1v1h-1zM344 264h1v1h-1zM367 264h1v1h-1zM369 264h1v1h-1zM443 264h1v1h-1zM445 264h1v1h-1zM449 264h1v1h-1zM451 264h1v1h-1zM462 264h1v1h-1zM464 264h1v1h-1zM466 264h1v1h-1zM143 265h1v1h-1zM146 265h1v1h-1zM149 265h1v1h-1zM152 265h1v1h-1zM189 265h1v1h-1zM192 265h1v1h-1zM241 265h1v1h-1zM244 265h1v1h-1zM279 265h1v1h-1zM282 265h1v1h-1zM298 265h1v1h-1zM301 265h1v1h-1zM342 265h1v1h-1zM345 265h1v1h-1zM367 265h1v1h-1zM370 265h1v1h-1zM443 265h1v1h-1zM446 265h1v1h-1zM449 265h1v1h-1zM452 265h1v1h-1zM462 265h1v1h-1zM464 265h2v1h-2zM467 265h1v1h-1zM142 266h1v1h-1zM146 266h1v1h-1zM148 266h1v1h-1zM152 266h1v1h-1zM188 266h1v1h-1zM192 266h1v1h-1zM240 266h1v1h-1zM244 266h1v1h-1zM278 266h1v1h-1zM282 266h1v1h-1zM297 266h1v1h-1zM301 266h1v1h-1zM341 266h1v1h-1zM345 266h1v1h-1zM366 266h1v1h-1zM370 266h1v1h-1zM415 266h1v1h-1zM442 266h1v1h-1zM446 266h1v1h-1zM448 266h1v1h-1zM452 266h1v1h-1zM461 266h1v1h-1zM463 266h1v1h-1zM465 266h1v1h-1zM467 266h1v1h-1zM142 267h1v1h-1zM147 267h2v1h-2zM153 267h1v1h-1zM188 267h1v1h-1zM193 267h1v1h-1zM240 267h1v1h-1zM245 267h1v1h-1zM278 267h1v1h-1zM283 267h1v1h-1zM297 267h1v1h-1zM302 267h1v1h-1zM341 267h1v1h-1zM346 267h1v1h-1zM366 267h1v1h-1zM371 267h1v1h-1zM415 267h2v1h-2zM442 267h1v1h-1zM447 267h2v1h-2zM453 267h1v1h-1zM461 267h1v1h-1zM463 267h1v1h-1zM466 267h1v1h-1zM468 267h1v1h-1zM141 268h13v1h-13zM187 268h7v1h-7zM239 268h7v1h-7zM277 268h7v1h-7zM296 268h7v1h-7zM340 268h7v1h-7zM365 268h7v1h-7zM414 268h1v1h-1zM416 268h1v1h-1zM441 268h13v1h-13zM460 268h9v1h-9zM211 269h1v1h-1zM236 269h1v1h-1zM414 269h1v1h-1zM417 269h1v1h-1zM211 270h2v1h-2zM236 270h2v1h-2zM413 270h1v1h-1zM417 270h1v1h-1zM210 271h1v1h-1zM212 271h1v1h-1zM235 271h1v1h-1zM237 271h1v1h-1zM413 271h1v1h-1zM418 271h1v1h-1zM210 272h1v1h-1zM213 272h1v1h-1zM235 272h1v1h-1zM238 272h1v1h-1zM249 272h1v1h-1zM305 272h1v1h-1zM392 272h1v1h-1zM412 272h7v1h-7zM209 273h1v1h-1zM213 273h1v1h-1zM234 273h1v1h-1zM238 273h1v1h-1zM249 273h2v1h-2zM305 273h2v1h-2zM392 273h2v1h-2zM434 273h1v1h-1zM209 274h1v1h-1zM214 274h1v1h-1zM234 274h1v1h-1zM239 274h1v1h-1zM248 274h1v1h-1zM250 274h1v1h-1zM304 274h1v1h-1zM306 274h1v1h-1zM391 274h1v1h-1zM393 274h1v1h-1zM434 274h2v1h-2zM199 275h1v1h-1zM208 275h7v1h-7zM233 275h7v1h-7zM248 275h1v1h-1zM251 275h1v1h-1zM304 275h1v1h-1zM307 275h1v1h-1zM361 275h1v1h-1zM391 275h1v1h-1zM394 275h1v1h-1zM433 275h1v1h-1zM435 275h1v1h-1zM199 276h2v1h-2zM247 276h1v1h-1zM251 276h1v1h-1zM303 276h1v1h-1zM307 276h1v1h-1zM361 276h2v1h-2zM390 276h1v1h-1zM394 276h1v1h-1zM433 276h1v1h-1zM436 276h1v1h-1zM198 277h1v1h-1zM200 277h1v1h-1zM247 277h1v1h-1zM252 277h1v1h-1zM303 277h1v1h-1zM308 277h1v1h-1zM336 277h1v1h-1zM360 277h1v1h-1zM362 277h1v1h-1zM390 277h1v1h-1zM395 277h1v1h-1zM432 277h1v1h-1zM436 277h1v1h-1zM198 278h1v1h-1zM201 278h1v1h-1zM246 278h7v1h-7zM302 278h7v1h-7zM336 278h2v1h-2zM360 278h1v1h-1zM363 278h1v1h-1zM386 278h1v1h-1zM389 278h7v1h-7zM408 278h1v1h-1zM432 278h1v1h-1zM437 278h1v1h-1zM197 279h1v1h-1zM201 279h1v1h-1zM330 279h1v1h-1zM335 279h1v1h-1zM337 279h1v1h-1zM359 279h1v1h-1zM363 279h1v1h-1zM386 279h2v1h-2zM408 279h2v1h-2zM431 279h7v1h-7zM197 280h1v1h-1zM202 280h1v1h-1zM330 280h2v1h-2zM335 280h1v1h-1zM338 280h1v1h-1zM359 280h1v1h-1zM364 280h1v1h-1zM385 280h1v1h-1zM387 280h1v1h-1zM407 280h1v1h-1zM409 280h1v1h-1zM196 281h7v1h-7zM329 281h1v1h-1zM331 281h1v1h-1zM334 281h1v1h-1zM338 281h1v1h-1zM358 281h7v1h-7zM385 281h1v1h-1zM388 281h1v1h-1zM407 281h1v1h-1zM410 281h1v1h-1zM329 282h1v1h-1zM332 282h1v1h-1zM334 282h1v1h-1zM339 282h1v1h-1zM384 282h1v1h-1zM388 282h1v1h-1zM406 282h1v1h-1zM410 282h1v1h-1zM328 283h1v1h-1zM332 283h8v1h-8zM384 283h1v1h-1zM389 283h1v1h-1zM406 283h1v1h-1zM411 283h1v1h-1zM328 284h1v1h-1zM333 284h1v1h-1zM383 284h7v1h-7zM405 284h7v1h-7zM327 285h7v1h-7zM355 296h1v1h-1zM355 297h2v1h-2zM354 298h1v1h-1zM356 298h1v1h-1zM354 299h1v1h-1zM357 299h1v1h-1zM353 300h1v1h-1zM357 300h1v1h-1zM353 301h1v1h-1zM358 301h1v1h-1zM352 302h7v1h-7zM156 321h1v1h-1zM162 321h1v1h-1zM230 321h1v1h-1zM427 321h1v1h-1zM156 322h2v1h-2zM162 322h2v1h-2zM230 322h2v1h-2zM427 322h2v1h-2zM155 323h1v1h-1zM157 323h1v1h-1zM161 323h1v1h-1zM163 323h1v1h-1zM229 323h1v1h-1zM231 323h1v1h-1zM426 323h1v1h-1zM428 323h1v1h-1zM155 324h1v1h-1zM158 324h1v1h-1zM161 324h1v1h-1zM164 324h1v1h-1zM229 324h1v1h-1zM232 324h1v1h-1zM426 324h1v1h-1zM429 324h1v1h-1zM154 325h1v1h-1zM158 325h1v1h-1zM160 325h1v1h-1zM164 325h1v1h-1zM228 325h1v1h-1zM232 325h1v1h-1zM425 325h1v1h-1zM429 325h1v1h-1zM154 326h1v1h-1zM159 326h2v1h-2zM165 326h1v1h-1zM228 326h1v1h-1zM233 326h1v1h-1zM425 326h1v1h-1zM430 326h1v1h-1zM153 327h13v1h-13zM227 327h7v1h-7zM424 327h7v1h-7z"/>
<path fill="#ff0000" shape-rendering="crispEdges" d="M175 213h7v1h-7zM175 214h1v1h-1zM181 214h1v1h-1zM175 215h1v1h-1zM181 215h1v1h-1zM175 216h1v1h-1zM181 216h1v1h-1zM175 217h1v1h-1zM181 217h1v1h-1zM165 218h7v1h-7zM175 218h1v1h-1zM181 218h1v1h-1zM165 219h1v1h-1zM171 219h1v1h-1zM175 219h7v1h-7zM165 220h1v1h-1zM171 220h1v1h-1zM165 221h1v1h-1zM171 221h1v1h-1zM165 222h1v1h-1zM171 222h1v1h-1zM165 223h1v1h-1zM171 223h1v1h-1zM165 224h7v1h-7zM371 225h7v1h-7zM371 226h1v1h-1zM377 226h1v1h-1zM371 227h1v1h-1zM377 227h1v1h-1zM371 228h1v1h-1zM377 228h1v1h-1zM371 229h1v1h-1zM377 229h1v1h-1zM221 230h7v1h-7zM371 230h1v1h-1zM377 230h1v1h-1zM221 231h1v1h-1zM227 231h1v1h-1zM371 231h7v1h-7zM221 232h1v1h-1zM227 232h1v1h-1zM181 233h7v1h-7zM221 233h1v1h-1zM227 233h1v1h-1zM181 234h1v1h-1zM187 234h1v1h-1zM221 234h1v1h-1zM227 234h1v1h-1zM181 235h1v1h-1zM187 235h1v1h-1zM221 235h1v1h-1zM227 235h1v1h-1zM181 236h1v1h-1zM187 236h1v1h-1zM221 236h7v1h-7zM181 237h1v1h-1zM187 237h1v1h-1zM181 238h1v1h-1zM187 238h1v1h-1zM181 239h7v1h-7zM258 255h7v1h-7zM258 256h1v1h-1zM264 256h1v1h-1zM346 256h7v1h-7zM258 257h1v1h-1zM264 257h1v1h-1zM346 257h1v1h-1zM352 257h1v1h-1zM208 258h7v1h-7zM258 258h1v1h-1zM264 258h1v1h-1zM346 258h1v1h-1zM352 258h1v1h-1zM208 259h1v1h-1zM214 259h1v1h-1zM258 259h1v1h-1zM264 259h1v1h-1zM346 259h1v1h-1zM352 259h1v1h-1zM208 260h1v1h-1zM214 260h1v1h-1zM258 260h1v1h-1zM264 260h1v1h-1zM346 260h1v1h-1zM352 260h1v1h-1zM208 261h1v1h-1zM214 261h1v1h-1zM258 261h7v1h-7zM346 261h1v1h-1zM352 261h1v1h-1zM141 262h13v1h-13zM187 262h7v1h-7zM208 262h1v1h-1zM214 262h1v1h-1zM239 262h7v1h-7zM277 262h7v1h-7zM296 262h7v1h-7zM340 262h13v1h-13zM365 262h7v1h-7zM441 262h13v1h-13zM460 262h9v1h-9zM141 263h1v1h-1zM147 263h1v1h-1zM153 263h1v1h-1zM187 263h1v1h-1zM193 263h1v1h-1zM208 263h1v1h-1zM214 263h1v1h-1zM239 263h1v1h-1zM245 263h1v1h-1zM277 263h1v1h-1zM283 263h1v1h-1zM296 263h1v1h-1zM302 263h1v1h-1zM340 263h1v1h-1zM346 263h1v1h-1zM365 263h1v1h-1zM371 263h1v1h-1zM441 263h1v1h-1zM447 263h1v1h-1zM453 263h1v1h-1zM460 263h1v1h-1zM462 263h1v1h-1zM466 263h1v1h-1zM468 263h1v1h-1zM141 264h1v1h-1zM147 264h1v1h-1zM153 264h1v1h-1zM187 264h1v1h-1zM193 264h1v1h-1zM208 264h7v1h-7zM239 264h1v1h-1zM245 264h1v1h-1zM277 264h1v1h-1zM283 264h1v1h-1zM296 264h1v1h-1zM302 264h1v1h-1zM340 264h1v1h-1zM346 264h1v1h-1zM365 264h1v1h-1zM371 264h1v1h-1zM441 264h1v1h-1zM447 264h1v1h-1zM453 264h1v1h-1zM460 264h1v1h-1zM462 264h1v1h-1zM466 264h1v1h-1zM468 264h1v1h-1zM141 265h1v1h-1zM147 265h1v1h-1zM153 265h1v1h-1zM187 265h1v1h-1zM193 265h1v1h-1zM239 265h1v1h-1zM245 265h1v1h-1zM277 265h1v1h-1zM283 265h1v1h-1zM296 265h1v1h-1zM302 265h1v1h-1zM340 265h1v1h-1zM346 265h1v1h-1zM365 265h1v1h-1zM371 265h1v1h-1zM441 265h1v1h-1zM447 265h1v1h-1zM453 265h1v1h-1zM460 265h1v1h-1zM462 265h1v1h-1zM466 265h1v1h-1zM468 265h1v1h-1zM141 266h1v1h-1zM147 266h1v1h-1zM153 266h1v1h-1zM187 266h1v1h-1zM193 266h1v1h-1zM239 266h1v1h-1zM245 266h1v1h-1zM277 266h1v1h-1zM283 266h1v1h-1zM296 266h1v1h-1zM302 266h1v1h-1zM340 266h1v1h-1zM346 266h1v1h-1zM365 266h1v1h-1zM371 266h1v1h-1zM441 266h1v1h-1zM447 266h1v1h-1zM453 266h1v1h-1zM460 266h1v1h-1zM462 266h1v1h-1zM466 266h1v1h-1zM468 266h1v1h-1zM141 267h1v1h-1zM147 267h1v1h-1zM153 267h1v1h-1zM187 267h1v1h-1zM193 267h1v1h-1zM239 267h1v1h-1zM245 267h1v1h-1zM277 267h1v1h-1zM283 267h1v1h-1zM296 267h1v1h-1zM302 267h1v1h-1zM340 267h1v1h-1zM346 267h1v1h-1zM365 267h1v1h-1zM371 267h1v1h-1zM441 267h1v1h-1zM447 267h1v1h-1zM453 267h1v1h-1zM460 267h1v1h-1zM462 267h1v1h-1zM466 267h1v1h-1zM468 267h1v1h-1zM141 268h13v1h-13zM187 268h7v1h-7zM239 268h7v1h-7zM277 268h7v1h-7zM296 268h7v1h-7zM340 268h7v1h-7zM365 268h7v1h-7zM441 268h13v1h-13zM460 268h9v1h-9zM196 270h7v1h-7zM196 271h1v1h-1zM202 271h1v1h-1zM196 272h1v1h-1zM202 272h1v1h-1zM412 272h7v1h-7zM196 273h1v1h-1zM202 273h1v1h-1zM227 273h7v1h-7zM412 273h1v1h-1zM418 273h1v1h-1zM196 274h1v1h-1zM202 274h1v1h-1zM227 274h1v1h-1zM233 274h1v1h-1zM412 274h1v1h-1zM418 274h1v1h-1zM196 275h1v1h-1zM202 275h1v1h-1zM227 275h1v1h-1zM233 275h1v1h-1zM412 275h1v1h-1zM418 275h1v1h-1zM196 276h7v1h-7zM227 276h1v1h-1zM233 276h1v1h-1zM412 276h1v1h-1zM418 276h1v1h-1zM431 276h7v1h-7zM227 277h1v1h-1zM233 277h1v1h-1zM412 277h1v1h-1zM418 277h1v1h-1zM431 277h1v1h-1zM437 277h1v1h-1zM227 278h1v1h-1zM233 278h1v1h-1zM246 278h7v1h-7zM412 278h7v1h-7zM431 278h1v1h-1zM437 278h1v1h-1zM227 279h7v1h-7zM246 279h1v1h-1zM252 279h1v1h-1zM431 279h1v1h-1zM437 279h1v1h-1zM246 280h1v1h-1zM252 280h1v1h-1zM431 280h1v1h-1zM437 280h1v1h-1zM233 281h7v1h-7zM246 281h1v1h-1zM252 281h1v1h-1zM431 281h1v1h-1zM437 281h1v1h-1zM233 282h1v1h-1zM239 282h1v1h-1zM246 282h1v1h-1zM252 282h1v1h-1zM333 282h7v1h-7zM383 282h7v1h-7zM431 282h7v1h-7zM233 283h1v1h-1zM239 283h1v1h-1zM246 283h1v1h-1zM252 283h1v1h-1zM333 283h1v1h-1zM339 283h1v1h-1zM383 283h1v1h-1zM389 283h1v1h-1zM233 284h1v1h-1zM239 284h1v1h-1zM246 284h7v1h-7zM333 284h1v1h-1zM339 284h1v1h-1zM383 284h1v1h-1zM389 284h1v1h-1zM233 285h1v1h-1zM239 285h1v1h-1zM333 285h1v1h-1zM339 285h1v1h-1zM383 285h1v1h-1zM389 285h1v1h-1zM233 286h1v1h-1zM239 286h1v1h-1zM333 286h1v1h-1zM339 286h1v1h-1zM383 286h1v1h-1zM389 286h1v1h-1zM233 287h7v1h-7zM327 287h7v1h-7zM339 287h1v1h-1zM383 287h1v1h-1zM389 287h1v1h-1zM327 288h1v1h-1zM333 288h7v1h-7zM383 288h7v1h-7zM405 288h7v1h-7zM327 289h1v1h-1zM333 289h1v1h-1zM405 289h1v1h-1zM411 289h1v1h-1zM327 290h1v1h-1zM333 290h1v1h-1zM358 290h7v1h-7zM405 290h1v1h-1zM411 290h1v1h-1zM327 291h1v1h-1zM333 291h1v1h-1zM358 291h1v1h-1zM364 291h1v1h-1zM405 291h1v1h-1zM411 291h1v1h-1zM327 292h1v1h-1zM333 292h1v1h-1zM358 292h1v1h-1zM364 292h1v1h-1zM405 292h1v1h-1zM411 292h1v1h-1zM327 293h7v1h-7zM358 293h1v1h-1zM364 293h1v1h-1zM405 293h1v1h-1zM411 293h1v1h-1zM358 294h1v1h-1zM364 294h1v1h-1zM405 294h7v1h-7zM358 295h1v1h-1zM364 295h1v1h-1zM358 296h7v1h-7zM389 305h7v1h-7zM389 306h1v1h-1zM395 306h1v1h-1zM389 307h1v1h-1zM395 307h1v1h-1zM389 308h1v1h-1zM395 308h1v1h-1zM389 309h1v1h-1zM395 309h1v1h-1zM389 310h1v1h-1zM395 310h1v1h-1zM389 311h7v1h-7zM302 312h7v1h-7zM302 313h1v1h-1zM308 313h1v1h-1zM302 314h1v1h-1zM308 314h1v1h-1zM302 315h1v1h-1zM308 315h1v1h-1zM302 316h1v1h-1zM308 316h1v1h-1zM302 317h1v1h-1zM308 317h1v1h-1zM302 318h7v1h-7zM153 321h13v1h-13zM352 321h7v1h-7zM424 321h7v1h-7zM153 322h1v1h-1zM159 322h1v1h-1zM165 322h1v1h-1zM352 322h1v1h-1zM358 322h1v1h-1zM424 322h1v1h-1zM430 322h1v1h-1zM153 323h1v1h-1zM159 323h1v1h-1zM165 323h1v1h-1zM352 323h1v1h-1zM358 323h1v1h-1zM424 323h1v1h-1zM430 323h1v1h-1zM153 324h1v1h-1zM159 324h1v1h-1zM165 324h1v1h-1zM352 324h1v1h-1zM358 324h1v1h-1zM424 324h1v1h-1zM430 324h1v1h-1zM153 325h1v1h-1zM159 325h1v1h-1zM165 325h1v1h-1zM352 325h1v1h-1zM358 325h1v1h-1zM424 325h1v1h-1zM430 325h1v1h-1zM153 326h1v1h-1zM159 326h1v1h-1zM165 326h1v1h-1zM352 326h1v1h-1zM358 326h1v1h-1zM424 326h1v1h-1zM430 326h1v1h-1zM153 327h13v1h-13zM352 327h7v1h-7zM424 327h7v1h-7z"/>
</svg></body></html>
